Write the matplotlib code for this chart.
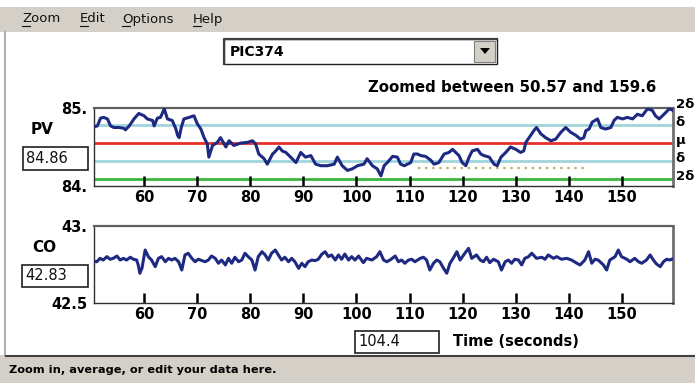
import matplotlib
matplotlib.use("Agg")
import matplotlib.pyplot as plt
from matplotlib.patches import Rectangle, Polygon
from matplotlib.lines import Line2D

# ---------------- data ----------------
x_range = (50.57, 159.6)
x_ticks = [60, 70, 80, 90, 100, 110, 120, 130, 140, 150]

pv_t = [50.6, 51.2, 51.8, 52.4, 53.1, 53.7, 54.3, 55.3, 56.2, 56.5, 57.2, 58.1, 59.0, 60.0,
        60.6, 61.6, 61.9, 62.5, 63.1, 63.8, 64.4, 65.3, 66.0, 66.3, 66.6, 67.0, 67.5, 68.5,
        69.4, 70.0, 70.7, 71.3, 71.9, 72.2, 72.9, 73.8, 74.4, 75.4, 76.0, 76.9, 78.2, 79.5,
        80.4, 81.0, 81.6, 82.6, 83.2, 84.2, 84.8, 85.4, 86.0, 86.7, 87.6, 88.6, 89.5, 90.4,
        91.4, 92.3, 93.3, 94.5, 95.8, 96.4, 97.3, 98.3, 99.2, 100.2, 101.4, 102.0, 103.0,
        103.9, 104.6, 105.2, 105.8, 106.8, 107.7, 108.3, 109.0, 109.6, 110.2, 110.8, 111.5,
        112.1, 113.0, 114.0, 114.6, 115.5, 116.5, 117.4, 118.1, 118.7, 119.3, 119.9, 120.6,
        121.2, 121.8, 122.8, 123.4, 124.0, 125.0, 125.9, 126.5, 127.2, 128.1, 129.0, 130.0,
        130.9, 131.5, 131.9, 132.5, 133.4, 133.9, 134.7, 135.6, 136.6, 137.5, 138.5, 139.4,
        140.3, 141.3, 142.2, 142.8, 143.2, 143.8, 144.4, 145.4, 146.0, 146.9, 147.9, 148.5,
        149.1, 150.1, 151.0, 152.0, 152.9, 153.8, 154.8, 155.7, 156.3, 157.0, 157.6, 158.2,
        158.9, 159.6]
pv_v = [84.76, 84.77, 84.87, 84.88, 84.86, 84.77, 84.75, 84.75, 84.74, 84.72, 84.77, 84.86, 84.93, 84.90,
        84.86, 84.84, 84.77, 84.87, 84.88, 84.99, 84.86, 84.84, 84.73, 84.65, 84.62, 84.75, 84.86, 84.88,
        84.90, 84.80, 84.73, 84.62, 84.54, 84.37, 84.52, 84.56, 84.62, 84.50, 84.58, 84.52, 84.55, 84.56,
        84.58, 84.54, 84.41, 84.35, 84.28, 84.41, 84.45, 84.50, 84.45, 84.43, 84.37, 84.30, 84.43, 84.37,
        84.39, 84.28, 84.26, 84.26, 84.28, 84.37, 84.26, 84.20, 84.22, 84.26, 84.28, 84.35, 84.26,
        84.22, 84.13, 84.26, 84.30, 84.38, 84.37, 84.28, 84.26, 84.28, 84.30, 84.41, 84.41,
        84.39, 84.38, 84.33, 84.28, 84.30, 84.41, 84.43, 84.47, 84.43, 84.39, 84.30, 84.26,
        84.37, 84.45, 84.47, 84.41, 84.39, 84.37, 84.28, 84.26, 84.37, 84.43, 84.50, 84.47,
        84.43, 84.45, 84.56, 84.62, 84.71, 84.75, 84.67, 84.62, 84.58, 84.60, 84.69, 84.75,
        84.69, 84.65, 84.60, 84.62, 84.71, 84.73, 84.82, 84.86, 84.75, 84.73, 84.75, 84.84,
        84.88, 84.86, 84.88, 84.86, 84.92, 84.90, 84.99, 84.97, 84.90, 84.86, 84.90, 84.94,
        84.99, 84.97]

co_t = [50.6, 51.1, 51.7, 52.3, 53.0, 53.6, 54.2, 54.9, 55.5, 56.1, 56.7, 57.4, 58.0, 58.6, 58.9,
        59.2, 59.6, 60.2, 60.8, 61.4, 62.1, 62.7, 63.3, 64.0, 64.6, 65.2, 65.8, 66.5, 67.1, 67.7,
        68.3, 69.0, 69.6, 70.2, 70.9, 71.5, 72.1, 72.7, 73.4, 74.0, 74.6, 75.3, 75.9, 76.5, 77.1,
        77.8, 78.4, 79.0, 79.6, 80.3, 80.9, 81.5, 82.2, 82.8, 83.4, 84.0, 84.7, 85.3, 85.9, 86.5,
        87.2, 87.8, 88.4, 89.1, 89.7, 90.3, 90.9, 91.6, 92.2, 92.8, 93.5, 94.1, 94.7, 95.3, 96.0,
        96.6, 97.2, 97.8, 98.5, 99.1, 99.7, 100.4, 101.3, 101.9, 102.9, 103.8, 104.4, 105.1, 105.7,
        106.3, 107.3, 107.9, 108.5, 109.1, 109.8, 110.4, 111.0, 112.0, 112.6, 113.2, 113.8, 114.5,
        115.1, 115.7, 116.4, 117.0, 117.6, 118.2, 118.9, 119.5, 120.4, 121.1, 121.7, 122.6, 123.3,
        123.9, 124.5, 125.1, 125.8, 126.7, 127.3, 128.0, 128.6, 129.2, 129.8, 130.5, 131.1, 131.7,
        132.4, 133.0, 133.9, 134.9, 135.5, 136.1, 137.1, 137.7, 138.6, 139.6, 140.5, 141.5, 142.1,
        143.0, 143.7, 144.3, 144.9, 145.5, 146.5, 147.1, 147.7, 148.7, 149.3, 149.9, 150.9, 151.5,
        152.4, 153.1, 153.7, 154.6, 155.3, 155.9, 156.5, 157.2, 157.8, 158.4, 159.0, 159.6]
co_v = [42.77, 42.768, 42.790, 42.779, 42.801, 42.784, 42.790, 42.805, 42.779, 42.790, 42.779, 42.797, 42.784, 42.779, 42.747,
        42.693, 42.725, 42.844, 42.801, 42.779, 42.736, 42.790, 42.801, 42.768, 42.790, 42.779, 42.790, 42.768, 42.714, 42.812,
        42.823, 42.790, 42.768, 42.784, 42.775, 42.768, 42.779, 42.805, 42.790, 42.758, 42.779, 42.747, 42.790, 42.758, 42.797,
        42.768, 42.779, 42.823, 42.801, 42.779, 42.714, 42.801, 42.833, 42.812, 42.779, 42.823, 42.844, 42.812, 42.779, 42.797,
        42.768, 42.790, 42.768, 42.725, 42.758, 42.736, 42.768, 42.779, 42.775, 42.784, 42.818, 42.833, 42.801, 42.812, 42.779,
        42.812, 42.784, 42.818, 42.779, 42.801, 42.779, 42.805, 42.762, 42.790, 42.779, 42.801, 42.833, 42.779, 42.768,
        42.779, 42.805, 42.768, 42.779, 42.758, 42.779, 42.784, 42.768, 42.790, 42.797, 42.779, 42.714, 42.758,
        42.779, 42.768, 42.725, 42.693, 42.758, 42.790, 42.833, 42.779, 42.823, 42.855, 42.790, 42.812, 42.779,
        42.768, 42.797, 42.762, 42.784, 42.768, 42.714, 42.768, 42.779, 42.758, 42.784, 42.779, 42.747, 42.790,
        42.801, 42.823, 42.790, 42.797, 42.784, 42.812, 42.790, 42.801, 42.784, 42.790, 42.779, 42.758, 42.747,
        42.779, 42.833, 42.758, 42.784, 42.779, 42.747, 42.714, 42.779, 42.801, 42.844, 42.801, 42.784, 42.768,
        42.790, 42.768, 42.758, 42.779, 42.812, 42.779, 42.753, 42.736, 42.768, 42.784, 42.779, 42.788]

pv_ylim = (84.0, 85.0)
co_ylim = (42.5, 43.0)
pv_mean = 84.55
pv_sigma = 0.23
avg_span = (111.6, 143.6)
avg_level = 84.23

pv_current = "84.86"
co_current = "42.83"
time_current = "104.4"
tag_name = "PIC374"
title_text = "Zoomed between 50.57 and 159.6"
menu_items = ["Zoom", "Edit", "Options", "Help"]
status_text = "Zoom in, average, or edit your data here."

# ---------------- figure ----------------
W, H = 695, 387
fig = plt.figure(figsize=(W / 100, H / 100), dpi=100)
fig.patch.set_facecolor("white")

def fx(x):
    return x / W

def fy(y):
    return 1 - y / H

def frect(x0, y0, x1, y1, **kw):
    r = Rectangle((fx(x0), fy(y1)), fx(x1) - fx(x0), fy(y0) - fy(y1),
                  transform=fig.transFigure, **kw)
    fig.patches.append(r)
    return r

def fline(xs, ys, **kw):
    fig.lines.append(Line2D([fx(v) for v in xs], [fy(v) for v in ys],
                            transform=fig.transFigure, **kw))

GREY = "#d4d0c8"
NAVY = "#1e2a82"
BOLD = dict(family="DejaVu Sans", fontweight="bold")

# window chrome
frect(0, 7, W, 32, facecolor=GREY, edgecolor="none")
fline([5, 5], [32, 355], color="#b0b0b0", lw=1.5)
menu_x = [22, 80, 122, 193]
for name, mx in zip(menu_items, menu_x):
    fig.text(fx(mx), fy(19), name, fontsize=9.5, family="DejaVu Sans",
             va="center", ha="left", color="#111111")
    fline([mx, mx + 8], [26, 26], color="#111111", lw=0.8)

# dropdown
frect(224, 39, 497, 64, facecolor="white", edgecolor="#202020", lw=1.0)
fline([224, 224, 497], [64, 39, 39], color="#404040", lw=1.6)
frect(474, 41, 495, 62, facecolor=GREY, edgecolor="#808080", lw=0.8)
fig.patches.append(Polygon([[fx(480), fy(48)], [fx(490), fy(48)], [fx(485), fy(54)]],
                           closed=True, transform=fig.transFigure, facecolor="black"))
fig.text(fx(230), fy(52), tag_name, fontsize=10, va="center", ha="left", **BOLD)

fig.text(fx(368), fy(88), title_text, fontsize=10.8, va="center", ha="left", **BOLD)

# ---------------- axes ----------------
def style_axes(ax):
    ax.set_xlim(*x_range)
    ax.set_xticks(x_ticks)
    ax.set_xticklabels([str(v) for v in x_ticks])
    ax.tick_params(axis="x", direction="in", length=7, width=1.8, color="black",
                   pad=3, labelsize=10.5)
    ax.tick_params(axis="y", length=0, pad=5, labelsize=10.5)
    for lab in ax.get_xticklabels() + ax.get_yticklabels():
        lab.set_fontweight("bold")
        lab.set_family("DejaVu Sans")
    for s in ax.spines.values():
        s.set_color("#303030")
        s.set_linewidth(1.0)
    ax.spines["right"].set_linewidth(2.0)
    ax.spines["right"].set_color("#707070")
    ax.spines["top"].set_linewidth(1.6)
    ax.spines["top"].set_color("#606060")

ax1 = fig.add_axes([fx(94), fy(186), fx(673) - fx(94), fy(108) - fy(186)])
ax1.set_ylim(*pv_ylim)
ax1.set_yticks(list(pv_ylim))
ax1.set_yticklabels(["84.", "85."])
style_axes(ax1)

levels = [
    (pv_mean + 2 * pv_sigma, "#9fd4dc", "2δ"),
    (pv_mean + pv_sigma, "#9fd4dc", "δ"),
    (pv_mean, "#e8302a", "μ"),
    (pv_mean - pv_sigma, "#9fd4dc", "δ"),
    (pv_mean - 2 * pv_sigma, "#3cb43c", "2δ"),
]
for val, col, lab in levels:
    ax1.axhline(val, color=col, lw=2.0, zorder=1)
    ax1.annotate(lab, xy=(1, val), xycoords=("axes fraction", "data"),
                 xytext=(2, 2), textcoords="offset points", va="center", ha="left",
                 fontsize=9.5, annotation_clip=False, **BOLD)
ax1.plot(list(avg_span), [avg_level, avg_level], color="#c0a868", lw=1.6,
         linestyle=(0, (1, 2.2)), zorder=2)
ax1.plot(pv_t, pv_v, color=NAVY, lw=2.2, solid_joinstyle="round", zorder=3)

ax2 = fig.add_axes([fx(94), fy(303), fx(673) - fx(94), fy(226) - fy(303)])
ax2.set_ylim(*co_ylim)
ax2.set_yticks(list(co_ylim))
ax2.set_yticklabels(["42.5", "43."])
style_axes(ax2)
ax2.plot(co_t, co_v, color=NAVY, lw=2.2, solid_joinstyle="round", zorder=3)

# side labels and value boxes
fig.text(fx(31), fy(130), "PV", fontsize=11, va="center", ha="left", **BOLD)
fig.text(fx(32), fy(248), "CO", fontsize=11, va="center", ha="left", **BOLD)

def value_box(x0, y0, x1, y1, txt):
    frect(x0, y0, x1, y1, facecolor="white", edgecolor="#202020", lw=1.2)
    fig.text(fx(x0 + 3), fy((y0 + y1) / 2), txt, fontsize=10.5, va="center",
             ha="left", family="DejaVu Sans", color="#111111")

value_box(23, 147, 88, 170, pv_current)
value_box(22, 265, 88, 287, co_current)
value_box(355, 331, 439, 353, time_current)
fig.text(fx(453), fy(342), "Time (seconds)", fontsize=10.5, va="center", ha="left", **BOLD)

# status bar
frect(0, 355, W, 383, facecolor=GREY, edgecolor="none")
fline([6, W], [355.5, 355.5], color="#404040", lw=1.5)
fig.text(fx(9), fy(370), status_text, fontsize=8.2, va="center", ha="left", **BOLD)

fig.savefig("out.png", dpi=100)
